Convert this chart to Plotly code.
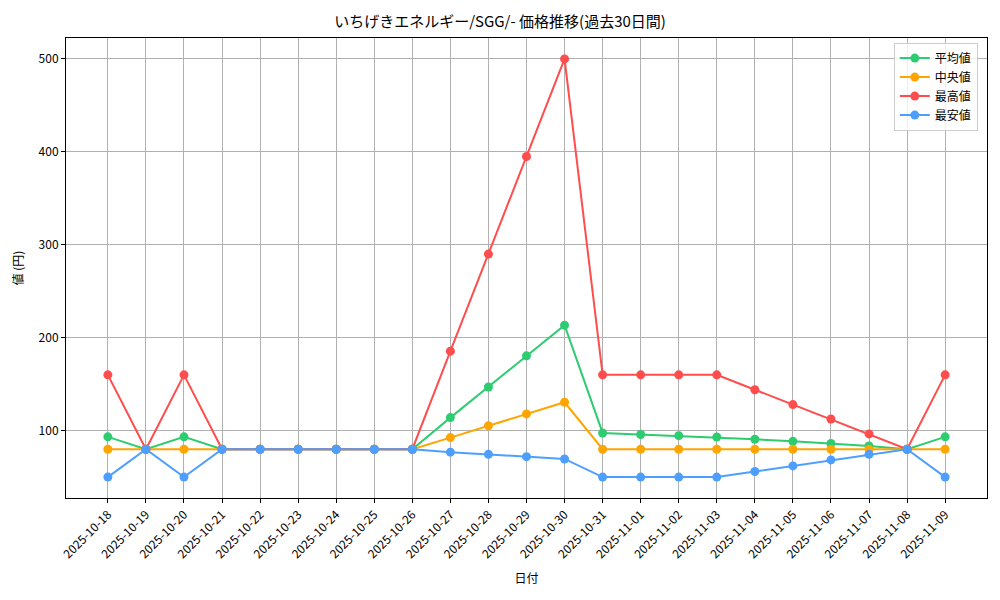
import plotly.graph_objects as go

dates = ['2025-10-18', '2025-10-19', '2025-10-20', '2025-10-21', '2025-10-22', '2025-10-23',
         '2025-10-24', '2025-10-25', '2025-10-26', '2025-10-27', '2025-10-28', '2025-10-29',
         '2025-10-30', '2025-10-31', '2025-11-01', '2025-11-02', '2025-11-03', '2025-11-04',
         '2025-11-05', '2025-11-06', '2025-11-07', '2025-11-08', '2025-11-09']

avg_price = [93.3, 80, 93.3, 80, 80, 80, 80, 80, 80, 114, 147, 180.5, 213.5,
             97.5, 95.8, 94.6, 93.2, 90.7, 88.5, 86.2, 83.5, 80, 93.3]
median_price = [80, 80, 80, 80, 80, 80, 80, 80, 80, 92.5, 105.3, 118, 130.5,
                80, 80, 80, 80, 80, 80, 80, 80, 80, 80]
max_price = [160, 80, 160, 80, 80, 80, 80, 80, 80, 185.5, 290, 395, 500,
             160, 160, 160, 160, 144, 128, 112.5, 96.5, 80, 160]
min_price = [50, 80, 50, 80, 80, 80, 80, 80, 80, 76.8, 74.5, 72, 69.5,
             50, 50, 50, 50, 56, 62, 68.5, 74.5, 80, 50]

series = [
    ('平均値', avg_price, '#2ecc71'),
    ('中央値', median_price, '#ffa500'),
    ('最高値', max_price, '#ff4d4d'),
    ('最安値', min_price, '#4d9fff'),
]

font_family = 'Noto Sans CJK JP'

fig = go.Figure()
for name, vals, color in series:
    fig.add_trace(go.Scatter(
        x=list(range(len(dates))), y=vals, name=name, mode='lines+markers',
        line=dict(color=color, width=2), marker=dict(color=color, size=9),
    ))

# page body has an 8px margin, so the margins are shifted by that amount
fig.update_layout(
    width=1000, height=600,
    paper_bgcolor='white', plot_bgcolor='white',
    margin=dict(l=58, r=21, t=30, b=110),
    font=dict(family=font_family, size=12, color='black'),
    title=dict(text='いちげきエネルギー/SGG/- 価格推移(過去30日間)', x=0.492, xanchor='center',
               y=0.977, yanchor='middle', font=dict(size=15)),
    legend=dict(x=0.99, y=0.99, xanchor='right', yanchor='top',
                bgcolor='rgba(255,255,255,0.8)', bordercolor='#cccccc', borderwidth=1,
                font=dict(size=12), tracegroupgap=2),
    showlegend=True,
)

fig.update_xaxes(
    tickmode='array', tickvals=list(range(len(dates))), ticktext=dates, tickangle=-45,
    range=[-1.1, len(dates) - 1 + 1.1],
    showgrid=True, gridcolor='#b0b0b0', gridwidth=1,
    showline=True, linecolor='black', linewidth=1, mirror=True,
    ticks='outside', ticklen=4, tickcolor='black', tickfont=dict(size=12),
    title=dict(text='日付', font=dict(size=12), standoff=14),
    zeroline=False, automargin=False,
)
fig.update_yaxes(
    range=[27.5, 522.5], tickvals=[100, 200, 300, 400, 500],
    showgrid=True, gridcolor='#b0b0b0', gridwidth=1,
    showline=True, linecolor='black', linewidth=1, mirror=True,
    ticks='outside', ticklen=4, tickcolor='black', tickfont=dict(size=12),
    title=dict(text='値 (円)', font=dict(size=12), standoff=12),
    zeroline=False, automargin=False,
)

fig.write_html('out.html')
